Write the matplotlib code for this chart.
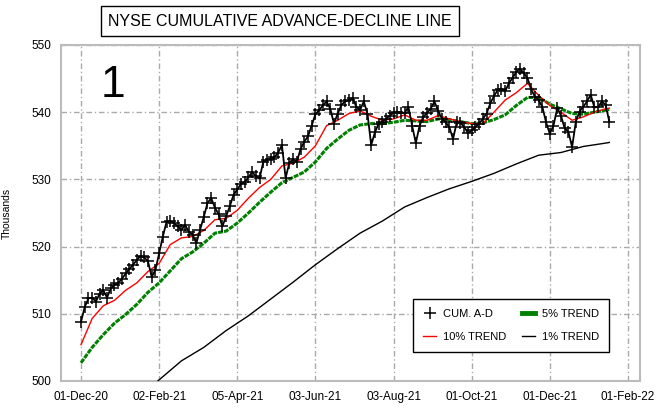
import matplotlib
matplotlib.use("Agg")
import matplotlib.pyplot as plt
from matplotlib.lines import Line2D

plt.rcParams['font.family'] = ['Liberation Sans', 'DejaVu Sans']

# trading-day index (0 = 01-Dec-20), one value every 2 trading days
ad_days = list(range(0, 285, 2))
ad_values = [
    508.8, 511.0, 512.3, 512.4, 511.8, 513.0, 513.5, 512.4, 513.8, 514.3,
    514.6, 515.2, 516.0, 516.7, 517.3, 518.0, 518.6, 518.4, 517.8, 515.5,
    516.5, 519.0, 521.5, 523.7, 523.8, 523.5, 523.0, 522.5, 523.2, 522.2,
    521.8, 520.5, 522.5, 524.4, 526.5, 527.2, 525.8, 524.8, 523.0, 524.5,
    526.0, 527.7, 528.5, 529.3, 529.6, 530.3, 531.1, 530.5, 530.2, 532.6,
    532.9, 533.1, 533.3, 534.0, 535.1, 530.2, 532.5, 533.0, 532.6, 534.5,
    535.6, 536.4, 538.0, 539.7, 540.3, 541.0, 541.6, 540.5, 538.3, 539.8,
    541.1, 541.6, 541.8, 542.1, 540.8, 540.3, 541.6, 539.8, 535.1, 537.0,
    538.3, 538.6, 539.0, 539.5, 539.9, 540.1, 539.9, 539.9, 540.8, 538.0,
    535.4, 538.0, 539.3, 539.9, 540.5, 541.6, 540.2, 539.0, 538.5, 537.8,
    536.0, 538.5, 538.4, 537.8, 536.9, 537.3, 537.8, 538.3, 539.0, 539.8,
    541.3, 542.4, 543.3, 543.5, 543.1, 544.3, 545.1, 546.0, 546.5, 545.8,
    545.1, 543.4, 542.3, 541.8, 540.8, 538.5, 536.8, 538.0, 540.6, 539.5,
    537.6, 537.1, 534.8, 538.6, 540.1, 540.8, 541.6, 542.6, 540.7, 540.8,
    541.6, 541.1, 538.6,
]

trend_days = list(range(0, 283, 6)) + [284]
trend10 = [
    505.4, 509.3, 511.2, 512.0, 513.5, 514.6, 516.3, 517.5, 520.3, 521.3,
    521.5, 522.4, 524.0, 524.2, 525.4, 527.2, 528.8, 530.0, 532.0, 532.4,
    533.3, 535.0, 538.0, 538.8, 539.8, 540.2, 539.4, 538.8, 539.0, 539.6,
    538.8, 538.8, 539.5, 539.0, 538.6, 538.3, 538.3, 540.0, 541.8, 542.9,
    544.3, 542.5, 541.0, 540.0, 538.8, 539.3, 540.0, 540.5, 540.6,
]
trend5 = [
    502.7, 505.0, 506.9, 508.6, 509.9, 511.4, 513.2, 514.6, 516.4, 518.2,
    519.2, 520.5, 522.0, 522.3, 523.5, 525.0, 526.6, 528.1, 529.5, 530.3,
    531.1, 532.6, 534.6, 536.0, 537.3, 538.1, 538.3, 538.3, 538.5, 538.8,
    538.7, 538.6, 539.0, 538.9, 538.6, 538.3, 538.4, 538.9, 539.6, 541.0,
    542.2, 542.2, 541.2, 540.5, 539.8, 539.7, 540.0, 540.3, 540.4,
]

trend1_days = [40, 54, 66, 78, 90, 102, 114, 126, 138, 150, 162, 174,
               186, 198, 210, 222, 234, 246, 258, 270, 282, 284]
trend1 = [499.7, 503.0, 505.0, 507.5, 509.7, 512.2, 514.7, 517.3, 519.7,
          522.0, 523.8, 525.9, 527.3, 528.6, 529.7, 530.9, 532.3, 533.6,
          534.0, 534.9, 535.4, 535.5]

tick_days = [0, 42, 84, 126, 168, 210, 252, 294]
tick_labels = ['01-Dec-20', '02-Feb-21', '05-Apr-21', '03-Jun-21',
               '03-Aug-21', '01-Oct-21', '01-Dec-21', '01-Feb-22']

fig = plt.figure(figsize=(6.6, 4.15), dpi=100)
ax = fig.add_axes([61 / 660, 34 / 415, 579 / 660, 336 / 415])

grid_style = dict(color='#aaaaaa', linewidth=1, linestyle=(0, (4, 2, 1, 2)))
ax.grid(True, **grid_style)
ax.set_axisbelow(True)

ax.plot(trend_days, trend5, color='#008000', linewidth=2.2,
        linestyle=(0, (1.6, 0.35)), zorder=3)
ax.plot(trend_days, trend10, color='#ff0000', linewidth=1.0, zorder=4)
ax.plot(trend1_days, trend1, color='black', linewidth=1.0, zorder=4)
ax.plot(ad_days, ad_values, color='black', linewidth=1.3, marker='+',
        markersize=9, markeredgewidth=1.1, zorder=5)

ax.set_xlim(-10.75, 300.5)
ax.set_ylim(500, 550)
ax.set_xticks(tick_days)
ax.set_xticklabels(tick_labels)
ax.set_yticks([500, 510, 520, 530, 540, 550])
ax.tick_params(length=0, labelsize=8.5)
ax.tick_params(axis='y', pad=7)
ax.tick_params(axis='x', pad=7)
for sp in ax.spines.values():
    sp.set_color('#bbbbbb')
    sp.set_linewidth(1.5)

ax.set_ylabel('Thousands', fontsize=7.5)
ax.yaxis.set_label_coords(-0.085, 0.5)

ax.text(0.09, 0.88, '1', transform=ax.transAxes, fontsize=32,
        ha='center', va='center')

fig.text(280 / 660, 1 - 21 / 415, 'NYSE CUMULATIVE ADVANCE-DECLINE LINE',
         ha='center', va='center', fontsize=11.5,
         bbox=dict(boxstyle='square,pad=0.45', facecolor='white',
                   edgecolor='black', linewidth=1))

handles = [
    Line2D([], [], color='black', linestyle='none', marker='+',
           markersize=9, markeredgewidth=1.1),
    Line2D([], [], color='#ff0000', linewidth=1.0),
    Line2D([], [], color='#008000', linewidth=3.5),
    Line2D([], [], color='black', linewidth=1.0),
]
labels = ['CUM. A-D', '10% TREND', '5% TREND', '1% TREND']
leg = ax.legend(handles, labels, ncol=2, loc='upper left',
                bbox_to_anchor=(0.608, 0.243), borderaxespad=0, fontsize=8,
                handlelength=1.2, handletextpad=0.6, columnspacing=1.4,
                labelspacing=1.1, borderpad=0.9, fancybox=False,
                framealpha=1, edgecolor='black')
leg.get_frame().set_linewidth(1)

fig.savefig('out.png', dpi=100)
